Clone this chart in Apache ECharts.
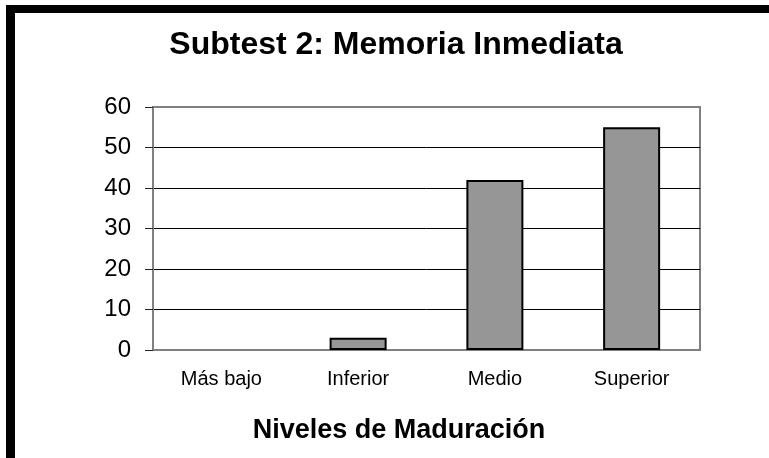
<!DOCTYPE html>
<html>
<head>
<meta charset="utf-8">
<script src="https://cdn.jsdelivr.net/npm/echarts@6/dist/echarts.min.js"></script>
<style>
  html, body { margin: 0; padding: 0; background: #fff; }
  #chart { width: 769px; height: 458px; }
</style>
</head>
<body>
<div id="chart"></div>
<script>
const categories = ['Más bajo', 'Inferior', 'Medio', 'Superior'];
const values = [0, 3, 42, 55];
const chartTitle = 'Subtest 2: Memoria Inmediata';
const xTitle = 'Niveles de Maduración';

const chart = echarts.init(document.getElementById('chart'));

// zero-height bars show no outline in the original
const barData = values.map(v => (v === 0 ? { value: v, itemStyle: { borderWidth: 0 } } : v));

chart.setOption({
  backgroundColor: '#fff',
  animation: false,
  textStyle: { fontFamily: 'Liberation Sans, Arial, sans-serif' },
  grid: {
    left: 153,
    right: 69,
    top: 107,
    bottom: 108,
    show: true,
    borderColor: '#808080',
    borderWidth: 2
  },
  graphic: [
    { type: 'rect', shape: { x: 6, y: 5, width: 763, height: 8 }, style: { fill: '#000' } },
    { type: 'rect', shape: { x: 6, y: 5, width: 9, height: 453 }, style: { fill: '#000' } },
    {
      type: 'text',
      x: 396,
      y: 45,
      style: {
        text: chartTitle,
        fill: '#000',
        font: 'bold 32px "Liberation Sans", Arial, sans-serif',
        align: 'center',
        verticalAlign: 'middle'
      }
    },
    {
      type: 'text',
      x: 399,
      y: 431,
      style: {
        text: xTitle,
        fill: '#000',
        font: 'bold 27px "Liberation Sans", Arial, sans-serif',
        align: 'center',
        verticalAlign: 'middle'
      }
    }
  ],
  xAxis: {
    type: 'category',
    data: categories,
    axisLine: { lineStyle: { color: '#808080', width: 2 } },
    axisTick: { show: false },
    axisLabel: { color: '#000', fontSize: 20, margin: 19 }
  },
  yAxis: {
    type: 'value',
    min: 0,
    max: 60,
    interval: 10,
    axisLine: { show: true, lineStyle: { color: '#808080', width: 2 } },
    axisTick: { show: true, length: 8, lineStyle: { color: '#222', width: 1 } },
    axisLabel: { color: '#000', fontSize: 24, margin: 22 },
    splitLine: {
      show: true,
      showMinLine: false,
      showMaxLine: false,
      lineStyle: { color: '#000', width: 1 }
    }
  },
  series: [
    {
      type: 'bar',
      data: barData,
      barWidth: 57,
      itemStyle: { color: '#969696', borderColor: '#000', borderWidth: 2 }
    }
  ]
});
</script>
</body>
</html>
